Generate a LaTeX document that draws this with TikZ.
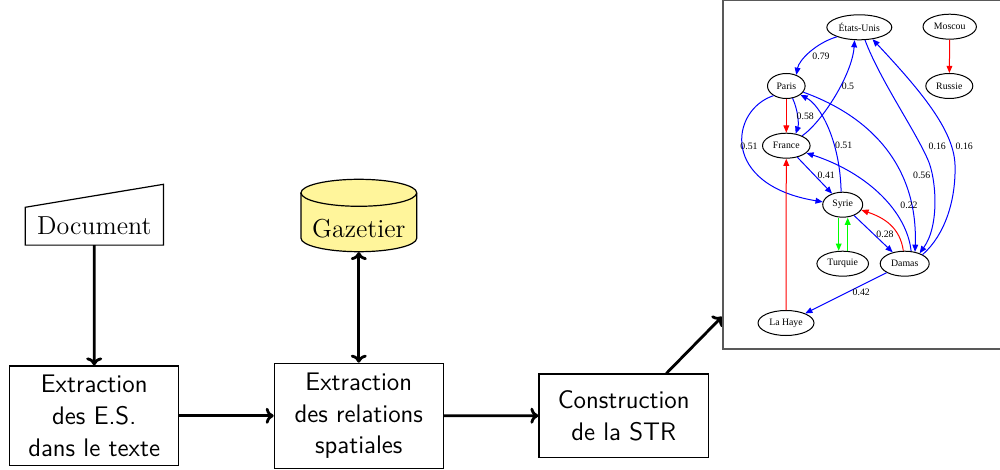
\documentclass[tikz,border=0pt]{standalone}
\usepackage{fontspec}
\newfontfamily\gfont{Liberation Serif}
\usetikzlibrary{shapes.geometric,arrows.meta,calc}
\definecolor{gazfill}{RGB}{255,245,155}
\definecolor{gblue}{RGB}{0,0,255}
\definecolor{gred}{RGB}{255,0,0}
\definecolor{ggreen}{RGB}{0,255,0}
\newcommand\mainsf{\sffamily\fontsize{12.7}{15.8}\selectfont}
\newcommand\mainrm{\rmfamily\fontsize{13}{15.8}\selectfont}
\newcommand\gsize{\gfont\fontsize{4.9}{5.6}\selectfont}
\begin{document}
\begin{tikzpicture}[x=0.5pt,y=-0.5pt,
  box/.style={draw, line width=0.6pt, align=center, font=\mainsf, inner sep=0pt},
  flow/.style={line width=1.4pt, -{To[length=4pt,width=8pt]}},
  gnode/.style={ellipse, draw, line width=0.5pt, inner sep=0pt, minimum height=12.5pt, font=\gsize},
  glab/.style={inner sep=0pt, font=\gsize},
  ge/.style={line width=0.5pt, gblue, -{Triangle[length=3.6pt,width=2.9pt]}},
]
\useasboundingbox (0,0) rectangle (1000,470);

% main flow
\node[box, minimum width=84.5pt, minimum height=49.8pt] (ext1) at (94.2,415.8) {Extraction\\des E.S.\\dans le texte};
\node[box, minimum width=84.5pt, minimum height=52.5pt] (ext2) at (358.8,415.8) {Extraction\\des relations\\spatiales};
\node[box, minimum width=84.7pt, minimum height=41.7pt] (str) at (623.7,415.7) {Construction\\de la STR};
\node[inner sep=0pt, minimum width=68.7pt, minimum height=18.5pt, font=\mainrm] (doc) at (94.3,226.2) {Document};
\draw[line width=0.6pt] (doc.south west) -- (doc.south east) -- ([yshift=11.5pt]doc.north east) -- (doc.north west) -- cycle;

\draw[line width=0.6pt, fill=gazfill] (301,192.8) -- (301,238.2) arc[start angle=180, end angle=360, x radius=28.93pt, y radius=6.75pt] -- (416.7,192.8) arc[start angle=0, end angle=180, x radius=28.93pt, y radius=6.75pt] -- cycle;
\draw[line width=0.6pt] (416.7,192.8) arc[start angle=0, end angle=-180, x radius=28.93pt, y radius=6.75pt];
\node[inner sep=0pt, minimum width=57.85pt, minimum height=22.7pt, font=\mainrm] (gaz) at (358.8,229) {Gazetier};

\draw[flow] (doc.south) -- (ext1.north);
\draw[line width=1.4pt, {To[length=4pt,width=8pt]}-{To[length=4pt,width=8pt]}] (gaz.south) -- (ext2.north);
\draw[flow] (ext1.east) -- (ext2.west);
\draw[flow] (ext2.east) -- (str.west);
\coordinate (gin) at (722,316.7);
\draw[flow] ($(str.north)!0.5!(str.north east)$) -- (gin);

% frame
\draw[line width=0.65pt, black!65] (1000,0.8) -- (723,0.8) -- (723,349) -- (1000,349);

% graph nodes
\node[gnode, minimum width=32.5pt] (eu) at (859.3,27.3) {États-Unis};
\node[gnode, minimum width=26.7pt] (moscou) at (949.7,26.7) {Moscou};
\node[gnode, minimum width=18.8pt] (paris) at (786.3,86) {Paris};
\node[gnode, minimum width=23.5pt] (russie) at (949.3,86) {Russie};
\node[gnode, minimum width=23.8pt] (france) at (786.3,145.7) {France};
\node[gnode, minimum width=20pt] (syrie) at (842.7,204.7) {Syrie};
\node[gnode, minimum width=25.8pt] (turquie) at (842.7,263.7) {Turquie};
\node[gnode, minimum width=24.5pt] (damas) at (904.7,263.7) {Damas};
\node[gnode, minimum width=28pt] (lahaye) at (786,323) {La Haye};

% graph edges
\draw[ge] (eu.203) .. controls (816,43) and (799,60) .. (paris.48);
\draw[ge] (france.32) .. controls (822,122) and (852,75) .. (eu.250);
\draw[ge, gred] (moscou) -- (russie);
\draw[ge, gred] (paris) -- (france);
\draw[ge] (paris.297) .. controls (798,110) and (799,124) .. (france.52);
\draw[ge] (paris.217) .. controls (730,110) and (720,185) .. (syrie.172);
\draw[ge] (syrie.97) .. controls (840,140) and (820,105) .. (paris.328);
\draw[ge] (france) -- (syrie);
\draw[ge] (damas.63) .. controls (907,212) and (868,173) .. (france.340);
\draw[ge] (paris.340) .. controls (875,118) and (918,170) .. (damas.49);
\draw[ge] (eu.294) .. controls (880,80) and (915,130) .. (928,160) .. controls (936,178) and (940,225) .. (damas.35);
\draw[ge] (damas.27) .. controls (945,235) and (956,200) .. (955,165) .. controls (954,130) and (920,90) .. (eu.318);
\draw[ge, ggreen] ($(syrie.south)+(-4,0)$) -- ($(turquie.north)+(-4,0)$);
\draw[ge, ggreen] ($(turquie.north)+(5,0)$) -- ($(syrie.south)+(5,0)$);
\draw[ge] (syrie) -- (damas);
\draw[ge, gred] (damas.96) .. controls (900,228) and (885,218) .. (syrie.344);
\draw[ge, gred] (lahaye) -- (france);
\draw[ge] (damas) -- (lahaye);

% edge labels
\node[glab] (l1) at (821,56.7) {0.79};
\node[glab] (l2) at (848,86) {0.5};
\node[glab] (l3) at (805.3,116) {0.58};
\node[glab] (l4) at (749,146) {0.51};
\node[glab] (l5) at (843.7,145.7) {0.51};
\node[glab] (l6) at (826.3,175) {0.41};
\node[glab] (l7) at (921.7,175) {0.56};
\node[glab] (l8) at (937.3,146) {0.16};
\node[glab] (l9) at (964.3,146) {0.16};
\node[glab] (l10) at (909,205) {0.22};
\node[glab] (l11) at (885,234) {0.28};
\node[glab] (l12) at (861.3,292.7) {0.42};
\end{tikzpicture}
\end{document}
